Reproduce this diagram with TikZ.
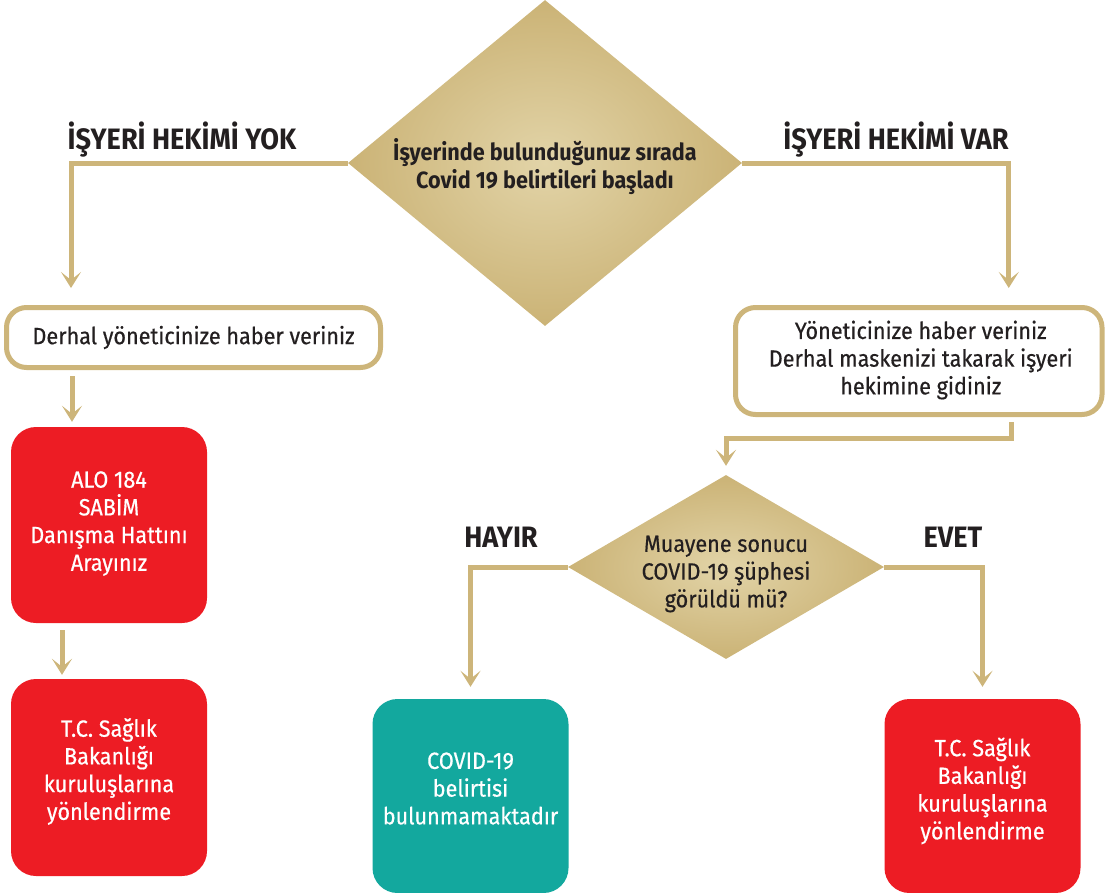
\documentclass[tikz,border=0pt]{standalone}
\usepackage{fontspec}
\setmainfont{Fira Sans}[FakeStretch=0.92, UprightFeatures={FakeBold=0.5}]
\usetikzlibrary{shapes.geometric,arrows.meta,calc}
\definecolor{gold}{HTML}{CBB376}
\definecolor{goldlight}{HTML}{E2D4A8}
\definecolor{goldline}{HTML}{CDB57A}
\definecolor{redbox}{HTML}{ED1C24}
\definecolor{tealbox}{HTML}{13A89E}
\definecolor{ink}{HTML}{231F20}
\tikzset{
  bodytext/.style={font=\fontsize{23.5}{27.7}\selectfont, text=ink, align=center, inner sep=0pt},
  labeltext/.style={font=\bfseries\fontsize{29.5}{32}\selectfont, text=ink},
  decision/.style={diamond, inner sep=0pt, inner color=goldlight, outer color=gold},
  outlinebox/.style={rectangle, rounded corners=20pt, draw=goldline, line width=5pt, fill=white, inner sep=0pt},
  solidbox/.style={rectangle, rounded corners=25pt, inner sep=0pt, minimum width=196pt},
  conn/.style={draw=goldline, line width=5pt, -{Stealth[length=16pt,width=20pt,inset=8pt]}},
}
\begin{document}
\begin{tikzpicture}[x=1pt,y=-1pt]
\useasboundingbox (0,0) rectangle (1105,892);
% decisions
\node[decision, minimum width=394pt, minimum height=326pt] (d1) at (545,163) {};
\node[bodytext, font=\bfseries\fontsize{23.5}{28}\selectfont] (d1txt) at ([yshift=-4pt]d1.center) {İşyerinde bulunduğunuz sırada\\Covid 19 belirtileri başladı};
\node[decision, minimum width=316pt, minimum height=184pt] (d2) at (726,567) {};
\node[bodytext] (d2txt) at ([yshift=-7pt]d2.center) {Muayene sonucu\\COVID-19 şüphesi\\görüldü mü?};
% boxes
\node[outlinebox, minimum width=374pt, minimum height=60pt] (b1) at (193.5,337.5) {};
\node[bodytext] (b1txt) at (b1.center) {Derhal yöneticinize haber veriniz};
\node[outlinebox, minimum width=366.5pt, minimum height=107pt] (b2) at (918.75,361) {};
\node[bodytext] (b2txt) at ([xshift=2pt,yshift=1pt]b2.center) {Yöneticinize haber veriniz\\Derhal maskenizi takarak işyeri\\hekimine gidiniz};
\node[solidbox, fill=redbox, minimum height=196pt] (r1) at (109,525) {};
\node[bodytext, text=white] (r1txt) at ([yshift=1.5pt]r1.center) {ALO 184\\SABİM\\Danışma Hattını\\Arayınız};
\node[solidbox, fill=redbox, minimum height=197pt] (r2) at (109,777.5) {};
\node[bodytext, text=white] (r2txt) at ([yshift=6pt]r2.center) {T.C. Sağlık\\Bakanlığı\\kuruluşlarına\\yönlendirme};
\node[solidbox, fill=tealbox, minimum height=194pt] (t1) at (470.5,796) {};
\node[bodytext, text=white] (t1txt) at ([yshift=7.5pt]t1.center) {COVID-19\\belirtisi\\bulunmamaktadır};
\node[solidbox, fill=redbox, minimum height=194pt] (r3) at (982.5,796) {};
\node[bodytext, text=white] (r3txt) at ([yshift=5pt]r3.center) {T.C. Sağlık\\Bakanlığı\\kuruluşlarına\\yönlendirme};
% labels
\node[labeltext, anchor=base] (lyok) at (182,149) {İŞYERİ HEKİMİ YOK};
\node[labeltext, anchor=base] (lvar) at (896,149) {İŞYERİ HEKİMİ VAR};
\node[labeltext, anchor=base] (lhayir) at (501,547) {HAYIR};
\node[labeltext, anchor=base] (levet) at (953,547) {EVET};
% connectors
\draw[conn] (d1.west) -| ([xshift=-122.5pt,yshift=17pt]b1.north);
\draw[conn] (d1.east) -| ([xshift=90pt,yshift=17pt]b2.north);
\draw[conn] ([xshift=-121.5pt,yshift=-6pt]b1.south) -- ([xshift=-37pt,yshift=5pt]r1.north);
\draw[conn] ([xshift=-47pt,yshift=-7pt]r1.south) -- ([xshift=-47pt,yshift=4pt]r2.north);
\draw[conn] ([xshift=93pt,yshift=-5pt]b2.south) |- ([yshift=36pt]d2.north) -- ([yshift=9pt]d2.north);
\draw[conn] (d2.west) -| ([yshift=12pt]t1.north);
\draw[conn] (d2.east) -| ([yshift=12pt]r3.north);
\end{tikzpicture}
\end{document}
